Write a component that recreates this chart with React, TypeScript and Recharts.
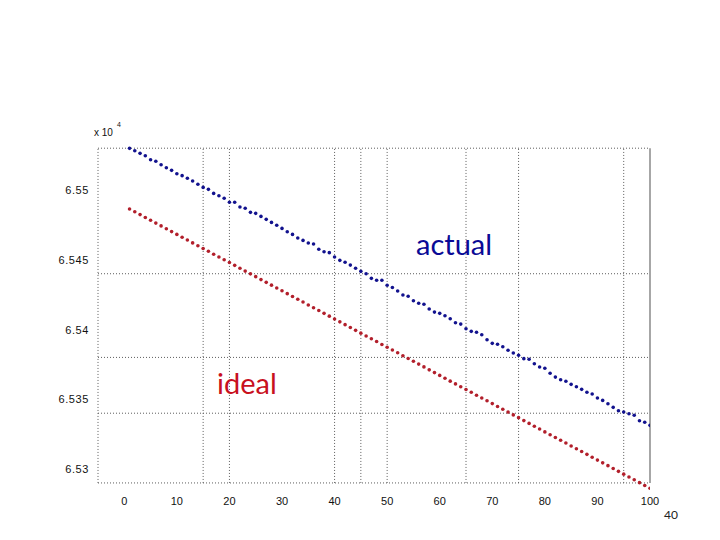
import { LineChart, Line, XAxis, YAxis, ReferenceLine } from 'recharts'

// values are raw (the axis shows them x 10^4)
const ACTUAL = [
  65529.9, 65528.2, 65526.3, 65524.6, 65521.7, 65520.6, 65518.1, 65516.0, 65514.1, 65511.7,
  65510.3, 65508.4, 65506.5, 65504.1, 65501.9, 65500.5, 65497.6, 65495.9, 65494.1, 65491.2,
  65491.2, 65487.8, 65486.9, 65484.0, 65483.3, 65481.1, 65479.0, 65476.8, 65474.7, 65472.5,
  65470.1, 65468.2, 65465.6, 65463.9, 65462.0, 65461.3, 65457.5, 65455.8, 65455.1, 65452.0,
  65449.6, 65448.2, 65446.2, 65443.9, 65441.7, 65440.0, 65436.7, 65435.3, 65435.3, 65431.7,
  65430.1, 65427.6, 65424.7, 65423.8, 65420.6, 65418.8, 65418.1, 65414.7, 65412.5, 65411.6,
  65409.9, 65407.7, 65404.9, 65403.9, 65400.6, 65398.7, 65398.0, 65396.3, 65392.7, 65390.1,
  65389.4, 65387.7, 65385.1, 65383.2, 65381.5, 65379.1, 65378.7, 65375.5, 65373.1, 65372.2,
  65368.6, 65365.9, 65364.0, 65362.9, 65360.7, 65359.0, 65357.1, 65355.0, 65353.8, 65350.9,
  65349.2, 65346.8, 65344.2, 65341.8, 65340.9, 65339.6, 65338.5, 65334.6, 65333.5, 65331.3,
]

const IDEAL = [
  65486.4, 65484.4, 65482.4, 65480.3, 65478.3, 65476.3, 65474.3, 65472.2, 65470.2, 65468.2,
  65466.2, 65464.2, 65462.1, 65460.1, 65458.1, 65456.1, 65454.0, 65452.0, 65450.0, 65448.0,
  65446.0, 65443.9, 65441.9, 65439.9, 65437.9, 65435.8, 65433.8, 65431.8, 65429.8, 65427.8,
  65425.7, 65423.7, 65421.7, 65419.7, 65417.6, 65415.6, 65413.6, 65411.6, 65409.6, 65407.5,
  65405.5, 65403.5, 65401.5, 65399.4, 65397.4, 65395.4, 65393.4, 65391.4, 65389.3, 65387.3,
  65385.3, 65383.3, 65381.2, 65379.2, 65377.2, 65375.2, 65373.2, 65371.1, 65369.1, 65367.1,
  65365.1, 65363.0, 65361.0, 65359.0, 65357.0, 65355.0, 65352.9, 65350.9, 65348.9, 65346.9,
  65344.8, 65342.8, 65340.8, 65338.8, 65336.8, 65334.7, 65332.7, 65330.7, 65328.7, 65326.6,
  65324.6, 65322.6, 65320.6, 65318.6, 65316.5, 65314.5, 65312.5, 65310.5, 65308.4, 65306.4,
  65304.4, 65302.4, 65300.4, 65298.3, 65296.3, 65294.3, 65292.3, 65290.2, 65288.2, 65286.2,
]

const X_TICKS = [0, 10, 20, 30, 40, 50, 60, 70, 80, 90, 100]
const Y_TICKS = [65500, 65450, 65400, 65350, 65300]
// the odd dotted grid of the original plot
const X_GRID = [-5, 15, 20, 40, 45, 50, 65, 75, 95]
const Y_GRID = [65530, 65440, 65380, 65340, 65290]
const X_RANGE: [number, number] = [-5, 100]
const Y_RANGE: [number, number] = [65280, 65532]
const BOX_Y: [number, number] = [65290, 65530]

const BLUE = '#12128e'
const RED = '#b21f2b'
const GRID = '#5e5e5e'
const AXIS_FONT = '"Liberation Sans", Arial, sans-serif'

const rows = ACTUAL.map((a, i) => ({ step: i + 1, actual: a, ideal: IDEAL[i] }))

function XTick({ x, y, payload }: { x?: number; y?: number; payload?: { value: number } }) {
  return (
    <text x={x} y={(y ?? 0) + 8} textAnchor="middle" fontSize={11} fill="#111" fontFamily={AXIS_FONT}>
      {payload?.value}
    </text>
  )
}

function YTick({ x, y, payload }: { x?: number; y?: number; payload?: { value: number } }) {
  return (
    <text x={(x ?? 0) - 9} y={(y ?? 0) + 4} textAnchor="end" fontSize={11} fill="#111"
      fontFamily={AXIS_FONT} letterSpacing={0.6}>
      {String((payload?.value ?? 0) / 10000)}
    </text>
  )
}

export default function App() {
  return (
    <div style={{ position: 'absolute', left: 0, top: 0, width: 720, height: 540, background: '#fff' }}>
      <LineChart width={720} height={540} data={rows} margin={{ top: 145.4, right: 70, bottom: 13.1, left: 38 }}>
        <XAxis type="number" dataKey="step" domain={X_RANGE} ticks={X_TICKS} allowDataOverflow
          axisLine={false} tickLine={false} tickSize={0} tickMargin={0} height={30} tick={<XTick />} />
        <YAxis type="number" domain={Y_RANGE} ticks={Y_TICKS} allowDataOverflow
          axisLine={false} tickLine={false} tickSize={0} tickMargin={0} width={60} tick={<YTick />} />
        {Y_GRID.map((v) => (
          <ReferenceLine key={'h' + v} segment={[{ x: X_RANGE[0], y: v }, { x: X_RANGE[1], y: v }]}
            stroke={GRID} strokeDasharray="1 2" />
        ))}
        {X_GRID.map((v) => (
          <ReferenceLine key={'v' + v} segment={[{ x: v, y: BOX_Y[0] }, { x: v, y: BOX_Y[1] }]}
            stroke={GRID} strokeDasharray="1 2" />
        ))}
        <ReferenceLine segment={[{ x: X_RANGE[1], y: BOX_Y[0] }, { x: X_RANGE[1], y: BOX_Y[1] }]}
          stroke="#777" strokeWidth={1.3} />
        <Line dataKey="actual" stroke="none" isAnimationActive={false} activeDot={false}
          dot={{ r: 1.8, fill: BLUE, stroke: 'none', strokeWidth: 0 }} />
        <Line dataKey="ideal" stroke="none" isAnimationActive={false} activeDot={false}
          dot={{ r: 1.8, fill: RED, stroke: 'none', strokeWidth: 0 }} />
      </LineChart>

      <svg width={720} height={540} style={{ position: 'absolute', left: 0, top: 0, pointerEvents: 'none' }}>
        <text x={94} y={136} fontSize={10} fill="#111" fontFamily={AXIS_FONT}>x 10</text>
        <text x={117} y={127} fontSize={7} fill="#111" fontFamily={AXIS_FONT}>4</text>
        <text x={416} y={255} fontSize={29} fill="#0a0a96" fontFamily="Lato, sans-serif">actual</text>
        <text x={217} y={394} fontSize={29} fill="#c8101e" fontFamily="Lato, sans-serif">ideal</text>
        <text x={664} y={519} fontSize={12} fill="#222" fontFamily="Lato, sans-serif">40</text>
      </svg>
    </div>
  )
}
